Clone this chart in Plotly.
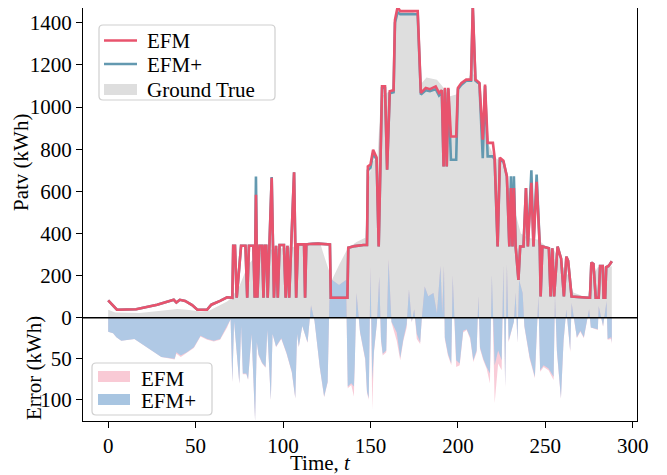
import plotly.graph_objects as go

# ---------------- data ----------------
t_true = [0, 4, 18, 30, 39.5, 45, 53, 58, 64, 68, 70, 75, 80, 85, 90, 100, 110, 117, 121, 124, 128,
          132, 137, 142, 147, 149, 151, 154, 156, 160, 163, 164.5, 167, 172, 177, 179, 182, 188, 191,
          195, 199, 201, 205, 208, 211, 214, 217, 221, 225, 228, 232, 236, 240, 246, 250, 255, 259,
          263, 266, 274, 277, 280, 288]
ground_true = [38, 25, 22, 32, 41, 38, 30, 35, 60, 77, 90, 150, 250, 300, 320, 330, 340, 360, 360, 280, 180,
               250, 330, 360, 380, 660, 740, 760, 1050, 1070, 1090, 1420, 1450, 1460, 1440, 1110, 1140, 1130, 1100,
               1050, 1060, 1090, 1120, 1170, 1120, 980, 830, 760, 740, 650, 520, 400, 380, 370, 340, 320, 260,
               200, 120, 95, 200, 240, 245]

t_pred = [0, 5, 16, 28, 37.5, 39, 41, 44, 48, 51, 56.5, 59, 64, 68, 71,
          71.5, 72.5, 73.5, 76, 78.5, 79.5, 80.5, 83, 83.8, 84.5, 85.3,
          86.5, 88, 88.8, 89.6, 90.4, 91.2, 93.5, 94.8, 96, 97, 98, 100.5,
          101.5, 102.5, 103.5, 106.3, 107.5, 108.5, 112, 112.6, 113.3, 115,
          120, 126.8, 127.3, 136.8, 137.3, 141, 146, 148, 148.5, 150, 151.5,
          153.5, 154.7, 156.6, 158.3, 159.5, 161, 163.2, 164, 165.5, 167,
          172, 177, 178.8, 181.6, 184, 187.3, 189.2, 190.8, 191.8, 192.6,
          193.6, 194.5, 196, 199, 200, 201.9, 204.7, 207.5, 208.5, 210,
          212.3, 214.2, 215.5, 217, 220, 221, 222.7, 224, 226, 228, 229.4,
          230.3, 231.2, 232, 233, 234.6, 235.6, 237.5, 238.9, 240, 242,
          243.2, 245, 246.8, 247.3, 248.3, 252, 253, 254, 255, 257, 258,
          259, 260.6, 262, 263, 265, 274.6, 275.5, 276.3, 277.5, 278.8,
          280.5, 281.3, 282.8, 283.3, 284.2, 284.8, 286, 287, 288]
efm = [82, 38, 40, 62, 85, 72, 85, 80, 60, 38, 38, 62, 80, 97, 95,
       342, 342, 95, 342, 342, 95, 342, 342, 95, 584, 95,
       342, 342, 95, 342, 342, 95, 664, 95, 342, 95, 345, 345,
       95, 342, 95, 690, 95, 348, 348, 95, 348, 350,
       352, 348, 95, 95, 332, 340, 345, 345, 718, 727, 797,
       760, 338, 1098, 1098, 702, 1075, 1080, 1414, 1475, 1455,
       1455, 1455, 1067, 1091, 1085, 1098, 1067, 1080, 718, 1091,
       718, 1091, 860, 860, 1091, 1113, 1130, 1130, 1480, 1130,
       1115, 845, 1107, 830, 830, 760, 338, 760, 745, 670, 338,
       616, 338, 616, 338, 180, 338, 338, 616, 338, 640,
       338, 645, 338, 101, 338, 330, 101, 330, 101, 338, 302,
       280, 101, 290, 270, 101, 95, 95, 262, 255, 95,
       95, 245, 245, 95, 95, 240, 245, 255, 268]
efm_plus = [82, 38, 40, 62, 85, 72, 85, 80, 60, 38, 38, 62, 80, 97, 95,
            342, 342, 95, 342, 342, 95, 342, 342, 95, 670, 95,
            342, 342, 95, 342, 342, 95, 668, 95, 342, 95, 345, 345,
            95, 342, 95, 690, 95, 348, 348, 95, 348, 350,
            352, 348, 95, 95, 332, 340, 345, 345, 700, 712, 780,
            750, 338, 1090, 1090, 702, 1065, 1070, 1400, 1450, 1440,
            1440, 1440, 1060, 1080, 1075, 1085, 1055, 1070, 718, 1085,
            718, 1085, 750, 750, 1085, 1105, 1125, 1125, 1470, 1125,
            1110, 757, 1100, 766, 766, 750, 338, 750, 740, 671, 338,
            671, 338, 671, 338, 180, 338, 338, 616, 338, 700,
            338, 680, 338, 101, 338, 330, 101, 330, 101, 338, 302,
            280, 101, 290, 270, 101, 95, 95, 262, 255, 95,
            95, 245, 245, 95, 95, 240, 245, 255, 268]

t_err = [0, 2.8, 4.7, 7.5, 15, 19, 24.7, 30.4, 38, 39, 41.5, 45, 49, 52.8, 56.6, 60.4, 64, 68, 70,
         71, 72, 75, 76, 77, 79, 80, 82, 84, 85, 86, 88, 90, 91, 93, 94, 96, 99, 102, 105, 107, 108, 109, 111, 114,
         116, 118, 121, 123.5, 125.5, 126.5, 128, 132, 136, 137, 139, 140.5, 141, 142, 144, 147, 148, 149, 150, 151,
         152, 153.7, 155, 156, 157, 159, 160.3, 162, 165, 167, 168.8, 170.7, 172, 173.6, 175, 176.5, 178.4, 179.3,
         181, 183, 186, 188, 190, 191, 192, 192.5, 194.3, 196.2, 197, 199, 201, 203, 205, 207, 208.8, 210.7, 211.7,
         212.6, 214.5, 216.4, 218.3, 219.4, 221, 223, 225, 226, 227, 228, 229, 232, 233, 234, 235, 237, 238, 241,
         244, 246, 247, 249, 251.8, 254.7, 255.5, 256.6, 258.9, 260.4, 262, 264.2, 265, 268, 270, 272, 275, 276,
         280, 280.5, 283, 285, 285.6, 287.6, 288]
err_efm_plus = [17, 19, 24, 28, 26, 32, 40, 48, 50, 42, 46, 42, 36, 22, 26, 28, 26, 11, 2,
                78, 5, 80, 10, 68, 68, 75, 20, 126, 30, 45, 55, 60, 15, 100, 20, 35, 25, 43, 66, 98, 20, 35, 10, 30,
                -15, 4, 60, 96, 78, -20, -46, -40, -46, 84, 80, 84, 58, -30, 17, 50, 90, 98, -60, 76,
                40, 6, -50, 26, 44, 40, -70, 5, 18, 49, 26, 8, -34, 5, -10, 20, 30, 2,
                -38, -26, -30, -5, -63, -5, -63, 24, 44, 56, -51, 52, 56, 16, 14, 24, 52, 40, -26,
                36, 50, 60, 68, -52, 58, 40, 52, -63, 84, -65, 28, 5, -30, 30, -46, -30, 10, 48,
                72, -26, 64, 58, 62, 72, -26, 40, 98, 28, -10, 40, -18, 24, 16, 24, -10, 12,
                14, -14, 10, -20, 26, 24, 30]
err_efm = [17, 19, 24, 28, 26, 32, 40, 48, 51, 44, 48, 43, 37, 23, 27, 29, 27, 12, 2,
           79, 5, 81, 10, 69, 69, 76, 21, 126, 30, 46, 56, 61, 15, 101, 20, 36, 26, 44, 67, 99, 20, 36, 10, 31,
           -15, 4, 61, 97, 79, -20, -46, -40, -46, 86, 82, 96, 60, -30, 18, 52, 92, 100, -62, 112,
           42, 6, -50, 28, 46, 42, -72, 6, 28, 52, 28, 12, -34, 6, -10, 26, 32, 2,
           -38, -26, -30, -5, -63, -5, -63, 26, 46, 58, -51, 60, 58, 18, 15, 26, 54, 42, -26,
           38, 52, 62, 80, -52, 104, 56, 64, -63, 86, -65, 30, 5, -30, 31, -46, -30, 11, 50,
           74, -26, 66, 60, 64, 76, -26, 42, 99, 29, -10, 42, -18, 25, 17, 25, -10, 12,
           15, -14, 11, -20, 27, 26, 32]

x_ticks = [0, 50, 100, 150, 200, 250, 300]
patv_ticks = [0, 200, 400, 600, 800, 1000, 1200, 1400]
err_ticks = [50, 100]

assert len(t_true) == len(ground_true)
assert len(t_pred) == len(efm) == len(efm_plus)
assert len(t_err) == len(err_efm) == len(err_efm_plus)

# ---------------- style ----------------
FONT = "Liberation Serif, Times New Roman, serif"
RED = "#e8536d"
TEAL = "#6399b0"
GRAY = "#dedede"
PINK = "rgba(245,170,190,0.6)"
BLUE = "rgba(170,200,229,0.93)"
LEGEND_PINK = "#f9cad5"
LEGEND_BLUE = "#a8c5e1"

# page is rendered with an 8px body margin; figure is sized so the plot area
# lands at page pixels x 83..637, y 8..421
OFF = 8
W, H = 667 - OFF, 475 - OFF
ML, MR, MT, MB = 83 - OFF, 30, 8 - OFF, 54
PL, PR, PT, PB = 83, 637, 8, 421          # plot area in page pixels


def px_x(px):
    return (px - PL) / (PR - PL)


def px_y(py):
    return (PB - py) / (PB - PT)


fig = go.Figure()

# ground truth area (base axis)
fig.add_trace(go.Scatter(x=t_true, y=ground_true, mode="lines", fill="tozeroy",
                         fillcolor=GRAY, line=dict(width=0, color=GRAY),
                         name="Ground True", showlegend=False,
                         xaxis="x", yaxis="y"))

# error areas (inverted error axis)
fig.add_trace(go.Scatter(x=t_err, y=err_efm, mode="lines", fill="tozeroy",
                         fillcolor=PINK, line=dict(width=0, color=PINK),
                         name="EFM", showlegend=False,
                         xaxis="x", yaxis="y2"))
fig.add_trace(go.Scatter(x=t_err, y=err_efm_plus, mode="lines", fill="tozeroy",
                         fillcolor=BLUE, line=dict(width=0, color=BLUE),
                         name="EFM+", showlegend=False,
                         xaxis="x", yaxis="y2"))

# prediction lines (on top)
fig.add_trace(go.Scatter(x=t_pred, y=efm_plus, mode="lines",
                         line=dict(width=2.6, color=TEAL),
                         name="EFM+", showlegend=False,
                         xaxis="x", yaxis="y3"))
fig.add_trace(go.Scatter(x=t_pred, y=efm, mode="lines",
                         line=dict(width=2.6, color=RED),
                         name="EFM", showlegend=False,
                         xaxis="x", yaxis="y3"))

TOP = 1470
PATV_RANGE = [-490, TOP]
ERR_RANGE = [126, -377.7]

axis_common = dict(showgrid=False, zeroline=False, ticks="outside", ticklen=6,
                   tickwidth=1.2, tickcolor="black", color="black",
                   tickfont=dict(family=FONT, size=21, color="black"))

fig.update_layout(
    width=W, height=H,
    margin=dict(l=ML, r=MR, t=MT, b=MB, autoexpand=False),
    paper_bgcolor="white", plot_bgcolor="white",
    font=dict(family=FONT, size=20, color="black"),
    xaxis=dict(range=[-14.4, 302.4], tickvals=x_ticks, showline=True, linecolor="black",
               linewidth=1.2, mirror=True, **axis_common),
    yaxis=dict(range=PATV_RANGE, tickvals=patv_ticks, showline=True, linecolor="black",
               linewidth=1.2, mirror=True, domain=[0, 1], **axis_common),
    yaxis2=dict(range=ERR_RANGE, tickvals=err_ticks, overlaying="y", side="left",
                showline=False, **axis_common),
    yaxis3=dict(range=PATV_RANGE, overlaying="y", visible=False),
    showlegend=False,
)

# zero line separating the two panels
fig.add_shape(type="line", xref="paper", x0=0, x1=1, yref="y", y0=0, y1=0,
              line=dict(color="black", width=1.5))


# ---------------- legends (drawn in page pixel positions) ----------------
def rounded_box(x0, y0, x1, y1, r=4):
    L, R = px_x(x0), px_x(x1)
    T, B = px_y(y0), px_y(y1)
    rx, ry = r / (PR - PL), r / (PB - PT)
    path = (f"M{L+rx},{T} L{R-rx},{T} Q{R},{T} {R},{T-ry} L{R},{B+ry} Q{R},{B} {R-rx},{B} "
            f"L{L+rx},{B} Q{L},{B} {L},{B+ry} L{L},{T-ry} Q{L},{T} {L+rx},{T} Z")
    fig.add_shape(type="path", path=path, xref="paper", yref="paper",
                  fillcolor="rgba(255,255,255,0.85)", line=dict(color="#cfcfcf", width=1.2),
                  layer="above")


def legend_line(x0, x1, y, color):
    fig.add_shape(type="line", xref="paper", yref="paper", x0=px_x(x0), x1=px_x(x1),
                  y0=px_y(y), y1=px_y(y), line=dict(color=color, width=2.6), layer="above")


def legend_patch(x0, y0, x1, y1, color):
    fig.add_shape(type="rect", xref="paper", yref="paper", x0=px_x(x0), x1=px_x(x1),
                  y0=px_y(y1), y1=px_y(y0), fillcolor=color, line=dict(width=0), layer="above")


def legend_text(x, y, text):
    fig.add_annotation(text=text, xref="paper", yref="paper", x=px_x(x), y=px_y(y),
                       xanchor="left", yanchor="middle", showarrow=False,
                       font=dict(family=FONT, size=21, color="black"))


# top legend
rounded_box(99, 25, 275, 100)
legend_line(104, 137, 40.5, RED)
legend_line(104, 137, 64, TEAL)
legend_patch(104, 84, 137, 95, GRAY)
legend_text(145, 41.5, "EFM")
legend_text(145, 65, "EFM+")
legend_text(145, 90, "Ground True")

# bottom legend
rounded_box(92, 363, 212, 415)
legend_patch(98, 371, 130, 382, LEGEND_PINK)
legend_patch(98, 394, 130, 405, LEGEND_BLUE)
legend_text(139, 378.5, "EFM")
legend_text(139, 400.5, "EFM+")

# axis titles
fig.add_annotation(text="Patv (kWh)", xref="paper", yref="paper",
                   x=px_x(21), y=px_y(163), textangle=-90, xanchor="center", yanchor="middle",
                   showarrow=False, font=dict(family=FONT, size=21, color="black"))
fig.add_annotation(text="Error (kWh)", xref="paper", yref="paper",
                   x=px_x(34), y=px_y(368), textangle=-90, xanchor="center", yanchor="middle",
                   showarrow=False, font=dict(family=FONT, size=21, color="black"))
fig.add_annotation(text="Time, <i>t</i>", xref="paper", yref="paper",
                   x=px_x(320), y=px_y(463), xanchor="center", yanchor="middle",
                   showarrow=False, font=dict(family=FONT, size=21, color="black"))

fig.write_html("out.html")
